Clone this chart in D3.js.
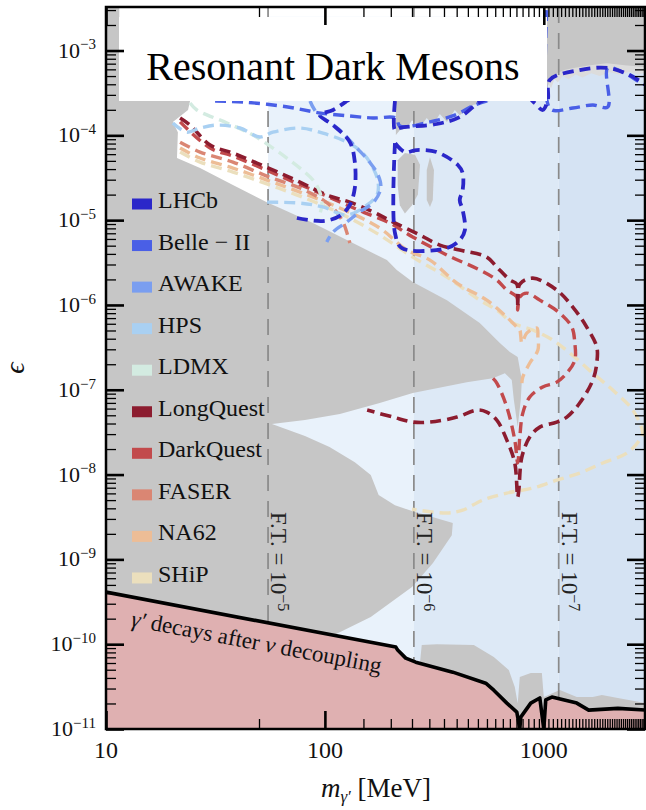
<!DOCTYPE html>
<html>
<head>
<meta charset="utf-8">
<script src="https://cdn.jsdelivr.net/npm/d3@7"></script>
<style>
  body { margin: 0; background: #fff; }
  text { font-family: "Liberation Serif", "Times New Roman", "DejaVu Serif", serif; }
</style>
</head>
<body>
<svg id="chart" width="646" height="810"></svg>
<script>
// ---------- axis definitions ----------
const massTickValues = [10, 100, 1000];
const massTickLabels = ["10", "100", "1000"];
const epsTickExponents = [-11, -10, -9, -8, -7, -6, -5, -4, -3];

// fine-tuning boundaries (MeV) and their labels
const fineTuningMasses = [55, 255, 1170];
const fineTuningExponents = ["−5", "−6", "−7"];
const bandColors = ["#e9f2fb", "#dde9f6", "#d5e3f3"];

// legend
const legendNames = ["LHCb", "Belle − II", "AWAKE", "HPS", "LDMX", "LongQuest", "DarkQuest", "FASER", "NA62", "SHiP"];
const legendColors = ["#2b27c9", "#4a5fe6", "#7a9ef0", "#a9d0f2", "#d3ebe1", "#8c1c2f", "#c24a4c", "#da8673", "#edbd96", "#ebdfbd"];

// ---------- existing constraints [mass MeV, epsilon] ----------
const grayMain = [
  [10, 3.3e-3], [11.5, 3.3e-3], [11.5, 2.0e-3], [24.2, 2.54e-4], [23.7, 1.99e-4], [20.2, 1.44e-4], [21.3, 1.09e-4],
  [21.1, 5.4e-5], [26.9, 4.11e-5], [38.0, 2.59e-5], [54.3, 1.63e-5], [62.3, 1.39e-5], [88.2, 9.24e-6],
  [126, 5.82e-6], [192, 3.38e-6], [213, 2.58e-6], [252, 1.86e-6], [361, 1.14e-6], [510, 6.12e-7],
  [630, 3.56e-7], [700, 2.79e-7], [760, 2.43e-7], [794, 1.30e-7], [785, 7.56e-8], [760, 3.63e-8],
  [730, 7.56e-8], [714, 1.30e-7], [664, 1.57e-7], [585, 1.37e-7], [445, 1.23e-7], [252, 9.14e-8],
  [178, 6.97e-8], [117, 5.17e-8], [81.1, 4.39e-8], [57.3, 3.94e-8], [81.1, 2.85e-8], [105, 2.11e-8],
  [137, 1.40e-8], [162, 9.86e-9], [176, 5.73e-9], [209, 4.36e-9], [250, 3.71e-9], [384, 2.68e-9],
  [380, 1.93e-9], [311, 9.03e-10], [250, 4.71e-10], [162, 2.09e-10], [105, 1.21e-10], [105, 1e-11], [10, 1e-11]
];
const grayStripUpper = [
  [211, 5e-4], [211, 1.01e-4], [220, 1.15e-4], [237, 1.22e-4], [250, 1.51e-4], [272, 1.25e-4], [292, 1.60e-4],
  [311, 1.32e-4], [335, 1.78e-4], [361, 1.44e-4], [392, 1.99e-4], [413, 1.73e-4], [474, 2.28e-4],
  [567, 2.54e-4], [1032, 2.54e-4], [1032, 5e-4]
];
const grayTopRightFringe = [
  [1032, 7.5e-4], [2920, 7.5e-4], [2920, 5.5e-4], [2700, 5.2e-4], [2450, 5.6e-4], [2200, 5.2e-4], [2000, 5.6e-4],
  [1800, 5.0e-4], [1650, 5.4e-4], [1500, 4.8e-4], [1400, 5.2e-4], [1300, 4.6e-4], [1220, 5.0e-4], [1160, 4.2e-4],
  [1120, 4.6e-4], [1080, 3.6e-4], [1050, 4.0e-4], [1032, 3.2e-4]
];
const grayTopRight = [
  [1032, 3.3e-3], [2920, 3.3e-3], [2920, 6.4e-4], [2340, 6.7e-4], [1940, 7.1e-4], [1630, 6.7e-4],
  [1350, 6.2e-4], [1240, 5.9e-4], [1146, 5.4e-4], [1065, 4.5e-4], [1032, 3.5e-4]
];
const grayBlobA = [[215, 5.1e-5], [232, 6.2e-5], [258, 5.9e-5], [272, 4.5e-5], [266, 2.0e-5], [250, 1.5e-5], [232, 1.2e-5], [220, 1.5e-5], [215, 2.6e-5]];
const grayBlobB = [[302, 5.5e-5], [315, 3.9e-5], [311, 1.73e-5], [302, 1.43e-5], [292, 1.73e-5], [292, 3.9e-5]];
const grayBottom = [
  [272, 6.1e-11], [277, 9.75e-11], [325, 1.0e-10], [479, 9.75e-11], [591, 7.05e-11], [692, 4.95e-11],
  [737, 3.12e-11], [760, 2.0e-11], [777, 4.1e-11], [872, 4.57e-11], [980, 4.57e-11], [1000, 2.38e-11],
  [1184, 2.88e-11], [1415, 2.38e-11], [1675, 2.38e-11], [1842, 2.51e-11], [2180, 2.32e-11], [2920, 2.02e-11],
  [2920, 1e-11], [272, 1e-11]
];

// dark photon decays after neutrino decoupling below this line
const decouplingLine = [
  [10, 4.11e-10], [211, 9.25e-11], [215, 8.52e-11], [234, 6.85e-11], [260, 6.14e-11], [384, 4.68e-11],
  [543, 3.47e-11], [591, 2.87e-11], [678, 2.02e-11], [753, 1.58e-11], [777, 1e-11], [785, 1.38e-11],
  [872, 2.02e-11], [959, 2.32e-11], [1000, 1e-11], [1021, 2.2e-11], [1089, 2.38e-11], [1415, 2.02e-11],
  [1603, 1.67e-11], [2180, 1.75e-11], [2920, 1.67e-11]
];

// ---------- projected sensitivities [mass MeV, epsilon] ----------
const ship = [
  [21.8, 6.35e-5], [26.9, 4.84e-5], [38.0, 3.69e-5], [54.3, 2.67e-5], [76.9, 1.92e-5], [117, 1.21e-5],
  [178, 6.67e-6], [252, 3.67e-6], [361, 2.13e-6], [510, 1.14e-6], [610, 8.71e-7], [722, 6.12e-7],
  [891, 5.06e-7], [1099, 3.86e-7], [1315, 2.71e-7], [1675, 1.57e-7], [2065, 9.91e-8], [2550, 5.76e-8],
  [2830, 3.09e-8], [2740, 2.55e-8], [2395, 1.79e-8], [1860, 1.37e-8], [1459, 1.04e-8], [1146, 8.61e-9],
  [891, 6.93e-9], [678, 6.05e-9], [526, 5.0e-9], [426, 3.81e-9], [361, 3.52e-9], [250, 3.9e-9]
];
const na62 = [
  [21.8, 7.08e-5], [26.9, 5.4e-5], [38.0, 4.11e-5], [54.3, 2.97e-5], [76.9, 2.14e-5], [117, 1.39e-5],
  [178, 8.07e-6], [237, 4.44e-6], [302, 3.38e-6], [401, 1.81e-6], [549, 1.14e-6], [678, 7.19e-7],
  [753, 5.48e-7], [777, 5.06e-7], [794, 3.56e-7], [836, 4.66e-7], [930, 5.35e-7], [940, 4.19e-7],
  [940, 2.94e-7], [863, 2.07e-7], [802, 1.41e-7], [794, 1.2e-7]
];
const faser = [
  [21.8, 8.3e-5], [26.9, 6.35e-5], [38.0, 4.84e-5], [54.3, 3.31e-5], [76.9, 2.39e-5], [97.9, 1.73e-5],
  [111, 1.32e-5], [121, 9.5e-6], [127, 6.67e-6], [130, 5.37e-6]
];
const darkQuest = [
  [21.8, 1.44e-4], [29.9, 7.08e-5], [38.0, 5.7e-5], [48.9, 4.35e-5], [62.3, 3.31e-5], [88.2, 2.26e-5],
  [126, 1.51e-5], [149, 1.25e-5], [198, 9.24e-6], [252, 6.32e-6], [361, 3.88e-6], [510, 2.58e-6],
  [610, 1.97e-6], [678, 1.5e-6], [753, 1.24e-6], [760, 8.71e-7], [777, 1.24e-6], [836, 1.38e-6],
  [959, 1.14e-6], [1183, 8.02e-7], [1343, 5.48e-7], [1386, 3.56e-7], [1386, 2.24e-7], [1274, 1.57e-7],
  [1146, 1.23e-7], [989, 1.08e-7], [863, 8.2e-8], [802, 5.31e-8], [777, 2.77e-8], [760, 1.37e-8],
  [737, 2.55e-8], [678, 6.25e-8], [610, 1.2e-7], [585, 1.37e-7]
];
const longQuest = [
  [21.8, 1.6e-4], [24.2, 1.32e-4], [29.9, 7.69e-5], [38.0, 6.18e-5], [48.9, 4.71e-5], [62.3, 3.59e-5],
  [76.9, 2.81e-5], [102, 1.98e-5], [130, 1.63e-5], [166, 1.25e-5], [205, 9.5e-6], [272, 6.67e-6],
  [335, 5.08e-6], [413, 4.44e-6], [549, 3.67e-6], [610, 2.8e-6], [700, 1.97e-6], [753, 1.76e-6],
  [760, 9.19e-7], [777, 1.76e-6], [891, 2.07e-6], [1146, 1.5e-6], [1357, 9.44e-7], [1571, 5.48e-7],
  [1746, 3.19e-7], [1746, 2.07e-7], [1675, 1.3e-7], [1459, 6.97e-8], [1274, 4.76e-8], [1146, 4.16e-8],
  [959, 3.63e-8], [863, 2.77e-8], [794, 1.61e-8], [769, 6.56e-9], [760, 5.43e-9], [737, 1.37e-8],
  [678, 2.55e-8], [610, 4.39e-8], [549, 5.46e-8], [494, 5.76e-8], [401, 4.76e-8], [302, 4.16e-8],
  [252, 4.16e-8], [205, 4.76e-8], [156, 5.76e-8]
];
const ldmx = [
  [24.2, 2.4e-4], [26.0, 1.99e-4], [35.7, 1.4e-4], [46.9, 1.01e-4], [57.9, 7.08e-5], [67.0, 5.4e-5],
  [76.9, 4.11e-5], [88.2, 2.97e-5], [94.8, 2.14e-5], [96.9, 1.51e-5], [92.9, 1.0e-5]
];
const hps = [
  [20.2, 1.4e-4], [23.4, 1.09e-4], [26.9, 1.22e-4], [32.1, 1.32e-4], [40.9, 1.22e-4], [50.5, 9.55e-5],
  [57.9, 1.09e-4], [76.9, 1.22e-4], [97.9, 1.06e-4], [126, 8.33e-5], [149, 6.18e-5], [166, 4.11e-5],
  [175, 2.81e-5], [173, 1.98e-5], [156, 1.51e-5], [126, 1.15e-5], [97.9, 1.43e-5], [76.9, 1.59e-5], [51.5, 1.63e-5]
];
const awake = [
  [85.5, 2.54e-4], [91.9, 1.83e-4], [114, 1.22e-4], [140, 7.08e-5], [160, 4.84e-5], [175, 3.4e-5],
  [180, 2.39e-5], [167, 1.63e-5], [144, 1.25e-5], [126, 9.5e-6], [109, 7.24e-6], [102, 5.52e-6]
];
const belle2Left = [
  [31.5, 2.54e-4], [42.3, 2.47e-4], [67.7, 2.16e-4], [95.9, 1.83e-4], [130, 1.69e-4], [166, 1.6e-4],
  [211, 1.6e-4], [220, 1.29e-4], [302, 1.44e-4], [392, 1.73e-4], [484, 2.28e-4], [567, 2.61e-4]
];
const belle2Right = [
  [1032, 3.0e-3], [1032, 2.61e-4], [1089, 1.99e-4], [1357, 2.1e-4], [1675, 2.28e-4], [1960, 2.16e-4],
  [1960, 6.22e-4], [2295, 5.57e-4], [2740, 4.25e-4], [2920, 3.92e-4]
];
const lhcbLow = [
  [74.5, 1.06e-5], [97.9, 9.76e-6], [117, 1.12e-5], [130, 1.51e-5], [137, 2.39e-5], [137, 4.84e-5],
  [130, 8.33e-5], [109, 1.32e-4], [94.8, 1.73e-4], [109, 1.99e-4], [126, 2.54e-4], [137, 3.0e-4]
];
const lhcbUpper = [
  [209, 2.54e-4], [209, 1.15e-4], [220, 1.22e-4], [324, 1.36e-4], [413, 1.64e-4], [510, 2.47e-4],
  [630, 3.0e-4], [819, 3.0e-4], [910, 2.4e-4], [989, 1.99e-4], [1043, 2.61e-4], [1065, 4.49e-4],
  [1459, 5.89e-4], [1960, 6.22e-4], [2470, 5.14e-4], [2920, 3.92e-4]
];
const lhcbDisplaced = [
  [209, 8.11e-5], [209, 7.05e-6], [225, 4.69e-6], [361, 4.69e-6], [413, 5.82e-6], [436, 7.64e-6],
  [426, 1.32e-5], [413, 1.73e-5], [426, 2.26e-5], [426, 3.59e-5], [405, 4.47e-5], [324, 6.35e-5],
  [263, 6.71e-5], [232, 6.35e-5], [209, 8.11e-5]
];

// ---------- layout ----------
const W = 646, H = 810;
const plot = { left: 106, right: 645, top: 7, bottom: 729 };
const x = d3.scaleLog().domain([10, 2900]).range([plot.left, plot.right]);
const y = d3.scaleLog().domain([1e-11, 3.26e-3]).range([plot.bottom, plot.top]);

const svg = d3.select("#chart");
svg.append("rect").attr("width", W).attr("height", H).attr("fill", "#fff");

svg.append("defs").append("clipPath").attr("id", "plotClip")
  .append("rect").attr("x", plot.left).attr("y", plot.top)
  .attr("width", plot.right - plot.left).attr("height", plot.bottom - plot.top);

const g = svg.append("g").attr("clip-path", "url(#plotClip)");

// fine-tuning bands
const bandEdges = fineTuningMasses.concat([x.domain()[1]]);
g.selectAll("rect.band").data(fineTuningMasses).join("rect")
  .attr("class", "band")
  .attr("x", d => x(d))
  .attr("width", (d, i) => x(bandEdges[i + 1]) - x(d))
  .attr("y", y(2.5e-3))
  .attr("height", y(1e-11) - y(2.5e-3))
  .attr("fill", (d, i) => bandColors[i]);

const poly = d3.line().x(d => x(d[0])).y(d => y(d[1]));

// excluded regions
g.append("path").attr("d", poly(grayTopRightFringe) + "Z").attr("fill", "#dcdcdc");
[grayMain, grayStripUpper, grayTopRight, grayBlobA, grayBlobB, grayBottom].forEach(p => {
  g.append("path").attr("d", poly(p) + "Z").attr("fill", "#c6c6c6");
});

// fine-tuning lines
g.selectAll("line.ft").data(fineTuningMasses).join("line")
  .attr("class", "ft")
  .attr("x1", d => x(d)).attr("x2", d => x(d))
  .attr("y1", plot.top).attr("y2", plot.bottom)
  .attr("stroke", "#8a8a8a").attr("stroke-width", 1.7).attr("stroke-dasharray", "16,10");

// neutrino decoupling region
const decArea = d3.area().x(d => x(d[0])).y0(y(1e-11)).y1(d => y(d[1]));
g.append("path").attr("d", decArea(decouplingLine)).attr("fill", "#dfb0b1");
g.append("path").attr("d", poly(decouplingLine)).attr("fill", "none")
  .attr("stroke", "#000").attr("stroke-width", 3.6).attr("stroke-linejoin", "round");

// projected sensitivity contours
const smooth = d3.line().x(d => x(d[0])).y(d => y(d[1])).curve(d3.curveCatmullRom.alpha(0.5));
const contours = [
  { pts: ship, c: legendColors[9], w: 3.4 },
  { pts: na62, c: legendColors[8], w: 3.4 },
  { pts: faser, c: legendColors[7], w: 3.4 },
  { pts: darkQuest, c: legendColors[6], w: 3.4 },
  { pts: longQuest, c: legendColors[5], w: 3.6 },
  { pts: ldmx, c: legendColors[4], w: 3.4 },
  { pts: hps, c: legendColors[3], w: 3.4 },
  { pts: awake, c: legendColors[2], w: 3.4 },
  { pts: belle2Left, c: legendColors[1], w: 3.4 },
  { pts: belle2Right, c: legendColors[1], w: 3.4 },
  { pts: lhcbLow, c: legendColors[0], w: 3.8 },
  { pts: lhcbUpper, c: legendColors[0], w: 3.8 },
  { pts: lhcbDisplaced, c: legendColors[0], w: 3.8 }
];
contours.forEach(o => {
  g.append("path").attr("d", smooth(o.pts)).attr("fill", "none")
    .attr("stroke", o.c).attr("stroke-width", o.w)
    .attr("stroke-dasharray", "11,6").attr("stroke-linejoin", "round");
});

// title box
svg.append("rect").attr("x", 119).attr("y", 17).attr("width", 428).attr("height", 84).attr("fill", "#fff");
svg.append("text").attr("x", 333).attr("y", 80).attr("text-anchor", "middle")
  .attr("font-size", 40).text("Resonant Dark Mesons");

// legend
const lg = svg.append("g");
legendNames.forEach((name, i) => {
  const cy = 204 + i * 41.55;
  lg.append("rect").attr("x", 132).attr("y", cy - 5.5).attr("width", 20).attr("height", 11).attr("fill", legendColors[i]);
  lg.append("text").attr("x", 158).attr("y", cy + 4).attr("font-size", 24).attr("fill", "#111").text(name);
});

// fine-tuning labels
fineTuningMasses.forEach((m, i) => {
  const t = svg.append("text")
    .attr("transform", `translate(${x(m) + 3},512) rotate(90)`)
    .attr("font-size", 23).attr("fill", "#222");
  t.append("tspan").text("F.T. = 10");
  t.append("tspan").attr("dy", "-0.45em").attr("font-size", 16).text(fineTuningExponents[i]);
});

// decoupling label, aligned with the line
const a0 = decouplingLine[0], a1 = decouplingLine[1];
const ang = Math.atan2(y(a1[1]) - y(a0[1]), x(a1[0]) - x(a0[0])) * 180 / Math.PI;
const dl = svg.append("text")
  .attr("transform", `translate(${x(12.9)},${y(1.64e-10)}) rotate(${ang})`)
  .attr("font-size", 23).attr("fill", "#111");
dl.append("tspan").attr("font-style", "italic").text("γ′");
dl.append("tspan").text(" decays after ");
dl.append("tspan").attr("font-style", "italic").text("ν");
dl.append("tspan").text(" decoupling");

// ---------- axes ----------
const majorEps = epsTickExponents.map(e => Math.pow(10, e));
const isMajor = v => Math.abs(Math.log10(v) - Math.round(Math.log10(v))) < 1e-9;
const minorEps = y.ticks(60).filter(v => !isMajor(v));
const minorMass = x.ticks(60).filter(v => !isMajor(v));

function styleAxis(sel, w) {
  sel.select(".domain").remove();
  sel.selectAll(".tick line").attr("stroke", "#000").attr("stroke-width", w);
  sel.selectAll(".tick text").remove();
}
const axes = [
  [d3.axisLeft, `translate(${plot.left},0)`, y],
  [d3.axisRight, `translate(${plot.right},0)`, y],
  [d3.axisBottom, `translate(0,${plot.bottom})`, x],
  [d3.axisTop, `translate(0,${plot.top})`, x]
];
axes.forEach(([fn, tr, sc]) => {
  const majors = sc === y ? majorEps : massTickValues;
  const minors = sc === y ? minorEps : minorMass;
  svg.append("g").attr("transform", tr)
    .call(fn(sc).tickValues(majors).tickSize(-18).tickFormat(""))
    .call(s => styleAxis(s, 2.6));
  svg.append("g").attr("transform", tr)
    .call(fn(sc).tickValues(minors).tickSize(-10).tickFormat(""))
    .call(s => styleAxis(s, 1.3));
});

// frame
svg.append("rect").attr("x", plot.left).attr("y", plot.top)
  .attr("width", plot.right - plot.left).attr("height", plot.bottom - plot.top)
  .attr("fill", "none").attr("stroke", "#000").attr("stroke-width", 2.5);

// y tick labels
epsTickExponents.forEach(e => {
  const t = svg.append("text").attr("x", plot.left - 10).attr("y", y(Math.pow(10, e)))
    .attr("dy", "0.32em").attr("text-anchor", "end").attr("font-size", 22).attr("fill", "#111");
  t.append("tspan").text("10");
  t.append("tspan").attr("dy", "-0.55em").attr("font-size", 15).text("−" + Math.abs(e));
});

// x tick labels
massTickValues.forEach((v, i) => {
  svg.append("text").attr("x", x(v)).attr("y", plot.bottom + 29)
    .attr("text-anchor", "middle").attr("font-size", 24).attr("fill", "#111").text(massTickLabels[i]);
});

// axis titles
const xt = svg.append("text").attr("x", 376).attr("y", 797).attr("text-anchor", "middle")
  .attr("font-size", 27).attr("fill", "#111");
xt.append("tspan").attr("font-style", "italic").text("m");
xt.append("tspan").attr("font-style", "italic").attr("font-size", 17).attr("dy", 5).text("γ′");
xt.append("tspan").attr("dy", -5).text(" [MeV]");

svg.append("text").attr("transform", "translate(24,368) rotate(-90)")
  .attr("text-anchor", "middle").attr("font-size", 28).attr("font-style", "italic")
  .attr("fill", "#111").text("ϵ");
</script>
</body>
</html>
